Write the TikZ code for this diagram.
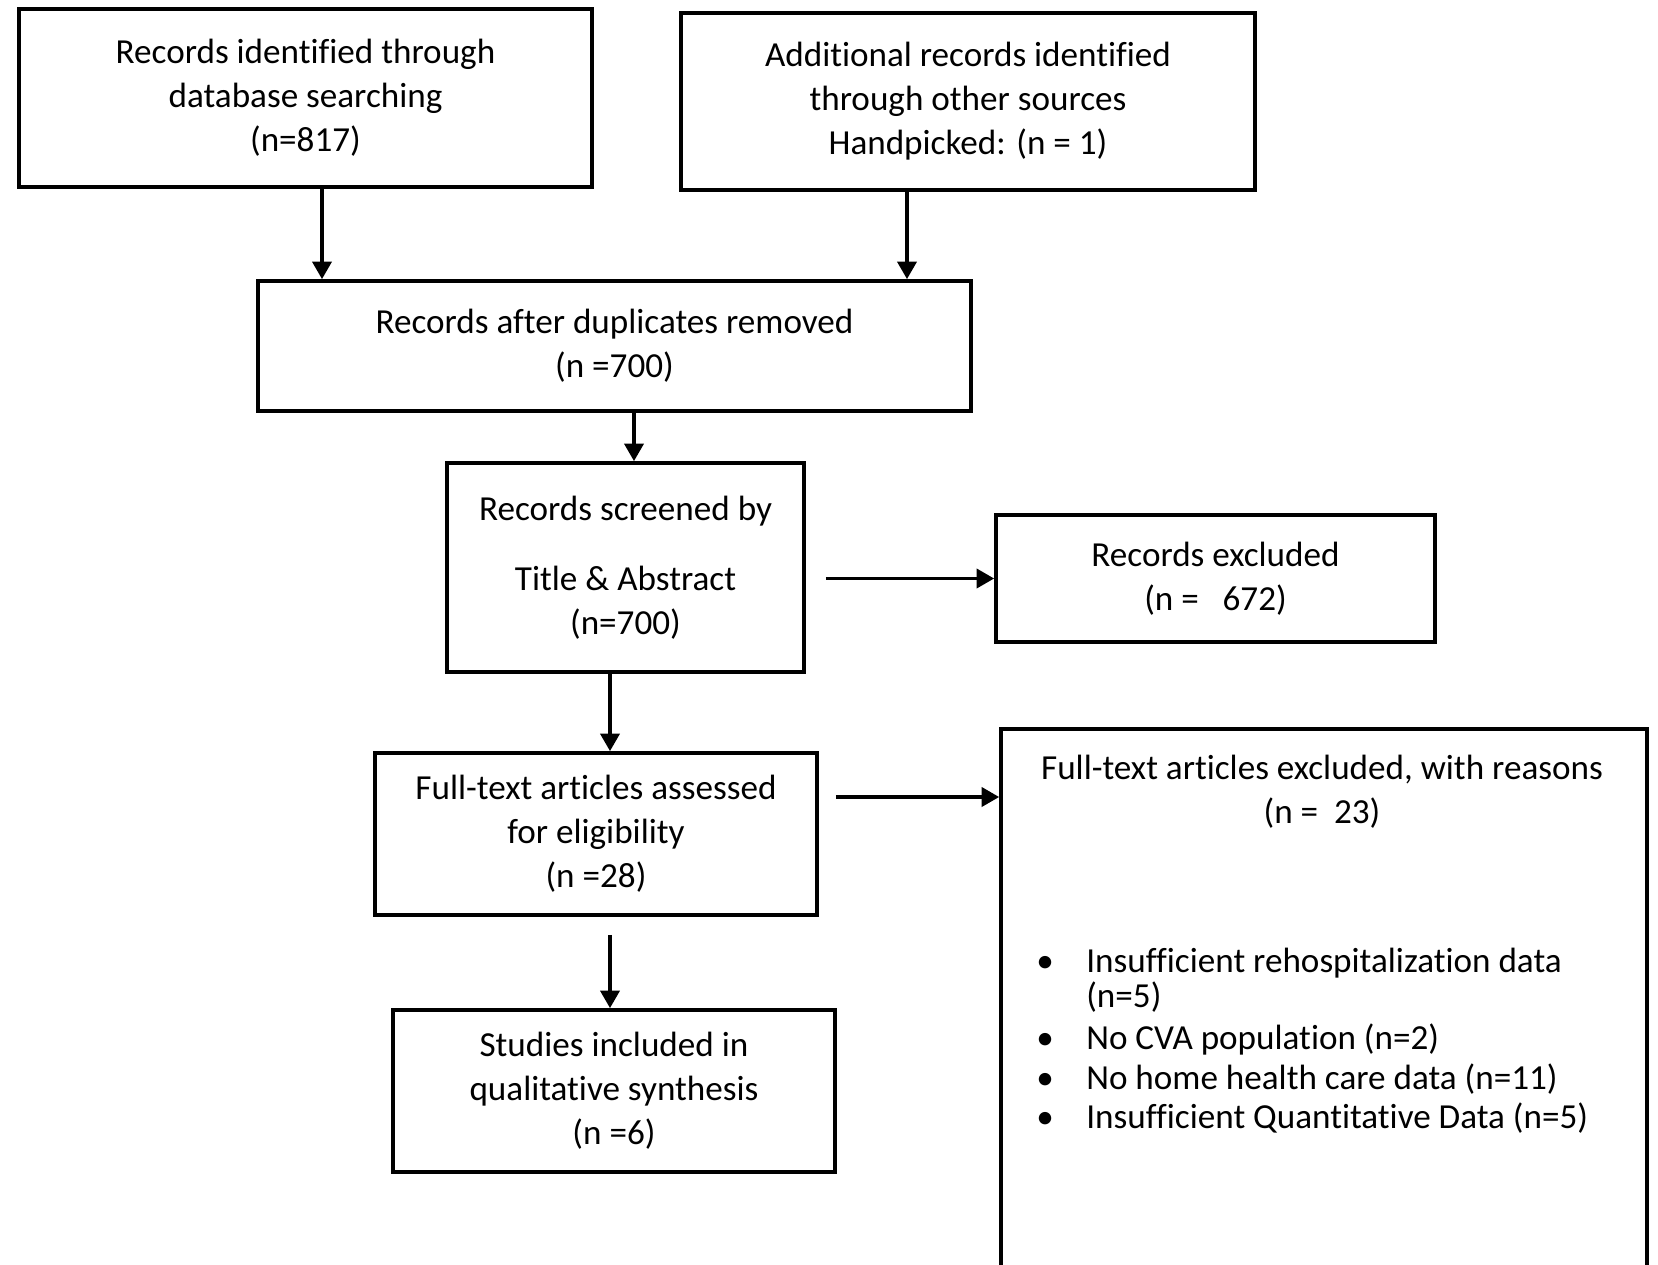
\documentclass[tikz,border=0pt]{standalone}
\usepackage{fontspec}
\setmainfont{Carlito}[Ligatures=NoCommon]
\usepackage{tikz}
\usetikzlibrary{arrows,arrows.meta}
\tikzstyle{line} = [draw, -{Triangle[length=10pt,width=11pt]}, line width=1.8pt]
\tikzstyle{block} = [draw, line width=2.2pt, align=center, inner sep=0pt]

\begin{document}
\begin{tikzpicture}[x=0.02cm,y=-0.02cm]
	\tikzstyle{every node}=[font=\fontsize{20}{25}\selectfont]
	\clip (0,0) rectangle (1658,1265);
	
	% ------------------- Identification ------------------- %
	\node[block, minimum width=11.46cm, minimum height=3.57cm] (b1) at (305.5,98)
		{Records identified through\\database searching\\(n=817)};
	\node[block, minimum width=11.48cm, minimum height=3.54cm] (b2) at (968,101.4)
		{Additional records identified\\through other sources\\Handpicked: (n = 1)};
	\node[block, minimum width=14.26cm, minimum height=2.6cm] (b3) at (614.5,346)
		{Records after duplicates removed\\(n =700)};
	
	% ------------------- Screening ------------------- %
	\node[block, minimum width=7.14cm, minimum height=4.18cm] (b4) at (625.5,567.5)
		{Records screened by\\[15pt]Title \& Abstract\\(n=700)};
	\node[block, minimum width=8.78cm, minimum height=2.54cm] (b5) at (1215.5,578.5)
		{Records excluded\\(n =\ \ \ 672)};
	
	% ------------------- Eligibility ------------------- %
	\node[block, minimum width=8.84cm, minimum height=3.24cm] (b6) at (596,834)
		{Full-text articles assessed\\for eligibility\\(n =28)};
	\node[block, minimum width=12.92cm, minimum height=11.42cm] (b8) at (1324,1014.5) {};
	\node[align=center] (b8t) at (1322,792) {Full-text articles excluded, with reasons\\(n =\ \ 23)};
	\node[anchor=north west, align=left, inner sep=0pt] (b8l) at (1036,947.5)
		{\makebox[1cm][l]{\textbullet}Insufficient rehospitalization data\\[-5pt]
		\hspace*{1cm}(n=5)\\[-1pt]
		\makebox[1cm][l]{\textbullet}No CVA population (n=2)\\[-2pt]
		\makebox[1cm][l]{\textbullet}No home health care data (n=11)\\[-3pt]
		\makebox[1cm][l]{\textbullet}Insufficient Quantitative Data (n=5)};
	
	% ------------------- Included ------------------- %
	\node[block, minimum width=8.84cm, minimum height=3.24cm] (b7) at (614,1091)
		{Studies included in\\qualitative synthesis\\(n =6)};
	
	% ------------------- Arrows ------------------- %
	\draw[line] (b1.south) ++(16.5,0) coordinate (a1) -- (a1 |- b3.north);
	\draw[line] (b2.south) ++(-61,0) coordinate (a2) -- (a2 |- b3.north);
	\draw[line] (b3.south) ++(19.5,0) coordinate (a3) -- (a3 |- b4.north);
	\draw[line] (b4.east |- b5.west) ++(20,0) -- (b5.west);
	\draw[line] (b4.south) ++(-15.5,0) coordinate (a5) -- (a5 |- b6.north);
	\draw[line] (b6.east) ++(17,-37) coordinate (a6) -- (a6 -| b8.west);
	\draw[line] (b6.south) ++(14,18) coordinate (a7) -- (a7 |- b7.north);
	
\end{tikzpicture}
\end{document}
